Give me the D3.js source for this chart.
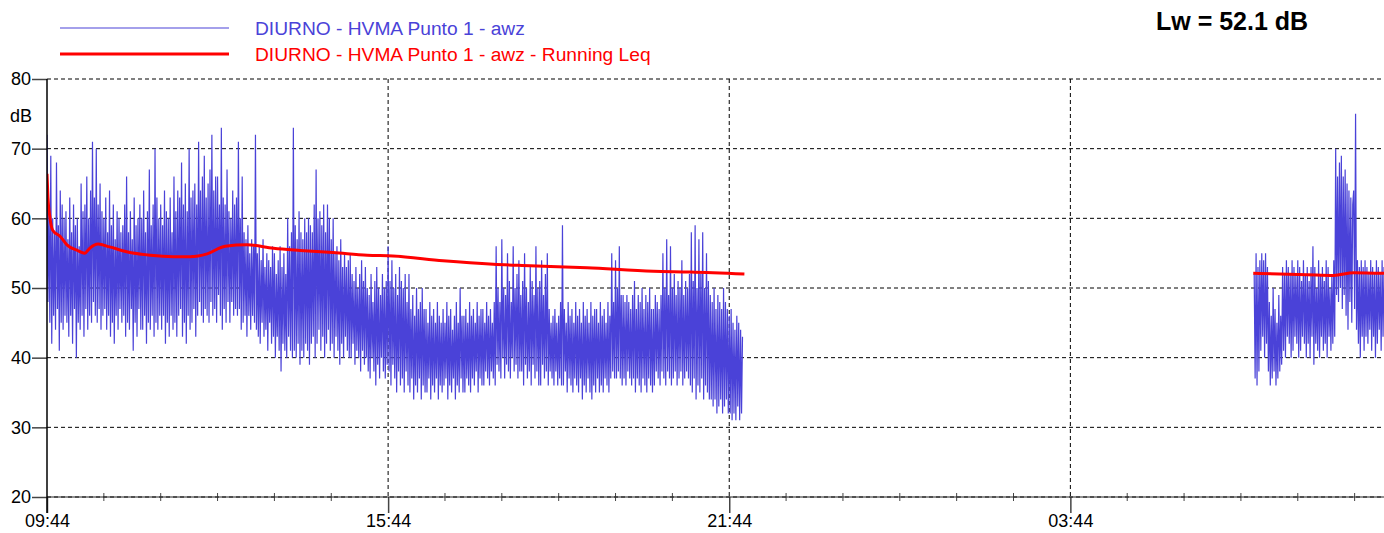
<!DOCTYPE html>
<html lang="en">
<head>
<meta charset="UTF-8">
<title>DIURNO - HVMA Punto 1 - awz</title>
<script src="https://d3js.org/d3.v7.min.js"></script>
<style>
    body { margin: 0; background-color: #ffffff; }
    svg { display: block; font-family: Arial, "Liberation Sans", sans-serif; }
    .grid line { stroke: #000; stroke-width: 1; stroke-dasharray: 4,3; }
    .axis text { font-size: 18px; fill: #000; font-family: Arial, "Liberation Sans", sans-serif; }
    .axis .tick line { stroke: #444; stroke-width: 1.5; }
    .legend text { font-size: 19.2px; }
</style>
</head>
<body>
<svg width="1384" height="533"></svg>
<script>
// ---- data (one value per minute after 09:44, dB) ----
var startTime = new Date(2024, 0, 1, 9, 44);
var sampleStep = 1;          // minutes between samples
var dayOffset = 0;           // first segment start (09:44)
var nightOffset = 1274;      // second segment start (06:58)

var levelDay = [
    72, 48, 61, 45, 69, 42, 60, 46, 58, 44, 68, 47, 59, 41, 64, 45, 62, 44, 60, 46,
    61, 45, 57, 43, 63, 46, 58, 42, 62, 47, 59, 40, 60, 45, 56, 44, 65, 46, 61, 43,
    62, 47, 66, 44, 60, 46, 64, 45, 71, 48, 63, 46, 70, 45, 62, 47, 65, 44, 61, 46,
    60, 47, 63, 44, 58, 46, 64, 43, 59, 45, 62, 42, 57, 46, 61, 44, 60, 47, 58, 45,
    59, 46, 62, 43, 66, 45, 58, 44, 61, 47, 57, 41, 63, 45, 59, 43, 60, 47, 62, 44,
    60, 44, 64, 46, 58, 42, 61, 45, 67, 44, 59, 46, 62, 43, 70, 45, 63, 44, 60, 46,
    62, 44, 59, 46, 64, 42, 61, 45, 60, 43, 63, 46, 58, 44, 66, 45, 61, 43, 64, 46,
    63, 47, 68, 43, 62, 45, 65, 42, 61, 46, 70, 44, 63, 45, 64, 47, 65, 43, 62, 46,
    71, 48, 64, 46, 66, 45, 69, 47, 63, 46, 65, 45, 67, 48, 72, 46, 64, 47, 66, 45,
    66, 49, 62, 46, 73, 44, 63, 47, 62, 45, 67, 48, 61, 45, 60, 48, 64, 46, 62, 47,
    63, 46, 71, 47, 60, 44, 66, 45, 58, 46, 57, 43, 59, 46, 55, 44, 57, 46, 56, 45,
    72, 44, 55, 43, 56, 42, 54, 45, 57, 43, 53, 44, 55, 41, 54, 45, 53, 42, 56, 43,
    55, 40, 52, 43, 54, 41, 56, 38, 53, 42, 55, 41, 52, 40, 60, 43, 56, 41, 58, 40,
    73, 41, 59, 40, 57, 42, 61, 39, 58, 41, 57, 40, 60, 42, 58, 41, 60, 39, 59, 42,
    58, 43, 62, 40, 67, 42, 60, 44, 61, 41, 59, 43, 62, 40, 58, 42, 62, 44, 60, 41,
    57, 42, 60, 40, 55, 43, 56, 41, 54, 39, 57, 42, 53, 40, 55, 43, 53, 41, 54, 40,
    55, 40, 52, 42, 51, 39, 53, 41, 50, 40, 52, 38, 54, 41, 51, 39, 53, 40, 50, 38,
    49, 37, 52, 40, 48, 38, 51, 36, 53, 39, 50, 37, 49, 40, 52, 38, 50, 37, 51, 39,
    56, 38, 51, 36, 54, 39, 50, 37, 52, 35, 49, 38, 53, 36, 51, 37, 50, 35, 52, 38,
    48, 36, 52, 35, 47, 37, 49, 34, 46, 36, 50, 35, 47, 37, 48, 34, 50, 36, 47, 35,
    47, 35, 45, 37, 48, 34, 46, 36, 47, 35, 45, 37, 48, 34, 46, 36, 45, 35, 47, 36,
    45, 37, 48, 34, 46, 36, 47, 35, 44, 37, 46, 34, 48, 36, 45, 35, 50, 37, 46, 35,
    46, 35, 47, 37, 45, 36, 48, 35, 46, 37, 47, 36, 45, 38, 48, 35, 46, 37, 47, 36,
    47, 36, 45, 38, 48, 37, 46, 36, 47, 38, 45, 37, 48, 36, 56, 39, 50, 38, 48, 37,
    57, 40, 50, 37, 49, 39, 55, 38, 51, 37, 48, 40, 56, 38, 50, 39, 52, 37, 54, 38,
    49, 38, 51, 36, 55, 39, 50, 37, 48, 38, 53, 36, 51, 39, 49, 37, 56, 38, 50, 36,
    51, 36, 54, 39, 49, 37, 52, 38, 55, 36, 47, 38, 45, 37, 46, 36, 47, 38, 45, 36,
    46, 37, 48, 36, 59, 36, 47, 38, 45, 35, 48, 37, 46, 36, 47, 35, 45, 37, 48, 36,
    46, 35, 47, 37, 45, 34, 48, 36, 46, 35, 47, 37, 45, 35, 48, 34, 46, 36, 47, 35,
    47, 37, 45, 35, 48, 36, 46, 35, 47, 37, 45, 36, 48, 35, 46, 37, 55, 38, 48, 37,
    54, 37, 50, 38, 56, 37, 49, 36, 49, 37, 48, 36, 49, 38, 48, 37, 47, 36, 49, 37,
    51, 35, 47, 37, 49, 36, 48, 35, 50, 37, 47, 36, 49, 35, 48, 37, 50, 36, 47, 35,
    47, 36, 49, 38, 48, 37, 47, 36, 49, 38, 55, 37, 50, 36, 57, 38, 49, 37, 56, 36,
    50, 37, 52, 38, 49, 36, 51, 37, 50, 38, 54, 36, 49, 37, 51, 38, 50, 37, 52, 36,
    58, 35, 51, 37, 59, 34, 50, 36, 57, 35, 52, 37, 58, 34, 50, 36, 55, 35, 51, 34,
    49, 34, 48, 33, 50, 34, 47, 32, 49, 33, 48, 34, 47, 32, 50, 33, 48, 34, 47, 32,
    46, 32, 47, 31, 45, 32, 44, 31, 46, 33, 45, 31, 44, 32, 43
];

var levelNight = [
    52, 37, 55, 36, 53, 38, 54,
    41, 55, 43, 54, 40, 55, 42, 53,
    38, 48, 36, 46, 37, 50, 38, 47, 36, 45, 37, 49, 38, 46, 39,
    53, 41, 52, 40, 54, 43, 53, 42, 52, 40, 54, 41, 53, 43, 52, 42, 54, 40, 53, 41, 51, 43, 54, 42, 52, 40, 53,
    42, 51, 40, 53, 43, 56, 39, 53, 42, 50, 41, 54, 40, 52, 43, 53, 41, 51, 42, 54, 40, 53, 43, 50, 41, 52, 42, 54, 43,
    70, 49, 66, 48, 68, 50,
    69, 47, 66, 49, 67, 46, 65,
    44, 64, 48, 63, 45, 62, 64, 47,
    75,
    44, 54, 42, 53, 40, 54, 43, 53, 41, 54, 43, 53, 42, 52, 44, 54, 41, 53, 43, 52, 40, 54, 42, 53, 44, 52, 41, 54, 43, 53
];

var leqDayTime  = [0, 1, 3, 6, 14, 21, 32, 40, 45, 54, 66, 84, 109, 133, 151, 169, 188, 211, 239, 267, 302, 338, 365, 418, 471, 510, 570, 640, 679, 736];
var leqDayValue = [66.4, 63, 60.2, 58.3, 57.4, 56.2, 55.4, 55.0, 55.7, 56.3, 55.9, 55.2, 54.7, 54.5, 54.5, 54.9, 56.0, 56.2, 55.7, 55.4, 55.1, 54.7, 54.6, 53.9, 53.4, 53.2, 52.9, 52.4, 52.3, 52.0];
var leqNightTime  = [1273, 1330, 1358, 1379, 1411];
var leqNightValue = [52.1, 51.9, 51.8, 52.2, 52.1];

var yTicks = [20, 30, 40, 50, 60, 70, 80];
var majorHours = [0, 6, 12, 18];     // hours after start
var seriesNames = ["DIURNO - HVMA Punto 1 - awz", "DIURNO - HVMA Punto 1 - awz - Running Leq"];
var lwLabel = "Lw = 52.1 dB";

// ---- chart ----
var svg = d3.select("svg");
var plotLeft = 47, plotRight = 1384, plotTop = 79, plotBottom = 497;
var blue = "#4a42d8", red = "#ff0000";

var addMin = function(m) { return d3.timeMinute.offset(startTime, m); };

var x = d3.scaleTime()
    .domain([startTime, addMin(1411.5)])
    .range([plotLeft, plotRight]);
var y = d3.scaleLinear()
    .domain([20, 80])
    .range([plotBottom, plotTop]);

// grid
var grid = svg.append("g").attr("class", "grid");
grid.selectAll(".h").data(yTicks).enter().append("line")
    .attr("x1", plotLeft).attr("x2", plotRight)
    .attr("y1", d => y(d)).attr("y2", d => y(d));
grid.selectAll(".v").data(majorHours.slice(1)).enter().append("line")
    .attr("x1", d => x(addMin(d * 60))).attr("x2", d => x(addMin(d * 60)))
    .attr("y1", plotTop).attr("y2", plotBottom);

// data
svg.append("clipPath").attr("id", "plot")
    .append("rect").attr("x", plotLeft).attr("y", 0).attr("width", plotRight - plotLeft).attr("height", plotBottom);

var levelLine = d3.line()
    .x(d => x(d.t)).y(d => y(d.v));

var daySeries = levelDay.map((v, i) => ({ t: addMin(dayOffset + i * sampleStep), v: v }));
var nightSeries = levelNight.map((v, i) => ({ t: addMin(nightOffset + i * sampleStep), v: v }));

var plot = svg.append("g").attr("clip-path", "url(#plot)");
[daySeries, nightSeries].forEach(function(s) {
    plot.append("path")
        .datum(s)
        .attr("fill", "none")
        .attr("stroke", blue)
        .attr("stroke-width", 1.2)
        .attr("stroke-linejoin", "miter")
        .attr("stroke-miterlimit", 2)
        .attr("d", levelLine);
});

var leqLine = d3.line()
    .curve(d3.curveMonotoneX)
    .x(d => x(d.t)).y(d => y(d.v));
[[leqDayTime, leqDayValue], [leqNightTime, leqNightValue]].forEach(function(p) {
    var s = p[0].map((m, i) => ({ t: addMin(m), v: p[1][i] }));
    plot.append("path")
        .datum(s)
        .attr("fill", "none")
        .attr("stroke", red)
        .attr("stroke-width", 3)
        .attr("d", leqLine);
});

// axes
var yAxis = svg.append("g")
    .attr("class", "axis")
    .attr("transform", "translate(" + plotLeft + ",0)")
    .call(d3.axisLeft(y).tickValues(yTicks).tickSize(15).tickSizeOuter(0).tickPadding(1));
yAxis.select(".domain").remove();

var xAxis = svg.append("g")
    .attr("class", "axis")
    .attr("transform", "translate(0," + plotBottom + ")")
    .call(d3.axisBottom(x)
        .tickValues(majorHours.map(h => addMin(h * 60)))
        .tickFormat(d3.timeFormat("%H:%M"))
        .tickSize(16).tickSizeOuter(0).tickPadding(1));
xAxis.select(".domain").remove();

// minor hourly ticks
var minor = d3.range(1, 24).filter(h => h % 6 !== 0);
svg.append("g").selectAll("line").data(minor).enter().append("line")
    .attr("x1", d => x(addMin(d * 60))).attr("x2", d => x(addMin(d * 60)))
    .attr("y1", plotBottom - 4).attr("y2", plotBottom + 4)
    .attr("stroke", "#444").attr("stroke-width", 1);

// axis lines
svg.append("line")
    .attr("x1", plotLeft).attr("x2", plotRight).attr("y1", plotBottom).attr("y2", plotBottom)
    .attr("stroke", "#222").attr("stroke-width", 1);
svg.append("line")
    .attr("x1", plotLeft).attr("x2", plotLeft).attr("y1", plotTop).attr("y2", plotBottom + 16)
    .attr("stroke", "#000").attr("stroke-width", 1.5);

svg.append("text")
    .attr("x", 32).attr("y", 116)
    .attr("dy", "0.35em")
    .attr("text-anchor", "end")
    .style("font-size", "18px")
    .text("dB");

// legend
var legend = svg.append("g").attr("class", "legend");
var legendRows = [{ name: seriesNames[0], color: blue, w: 1.2, y: 28 },
                  { name: seriesNames[1], color: red, w: 3, y: 54 }];
legendRows.forEach(function(r) {
    legend.append("line")
        .attr("x1", 60).attr("x2", 229)
        .attr("y1", r.y).attr("y2", r.y)
        .attr("stroke", r.color).attr("stroke-width", r.w);
    legend.append("text")
        .attr("x", 255).attr("y", r.y)
        .attr("dy", "0.35em")
        .attr("fill", r.color)
        .text(r.name);
});

svg.append("text")
    .attr("x", 1156).attr("y", 30)
    .style("font-size", "25px")
    .style("font-weight", "bold")
    .text(lwLabel);
</script>
</body>
</html>
